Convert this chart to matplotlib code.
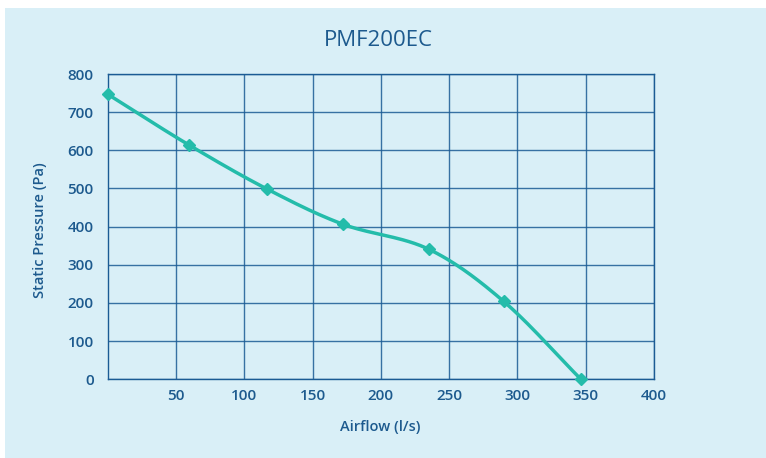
import numpy as np
import matplotlib
matplotlib.use("Agg")
import matplotlib.pyplot as plt
from matplotlib.patches import Rectangle

title = "PMF200EC"
airflow = [0, 59.5, 117, 172.5, 235, 290, 346.5]
pressure = [747, 614, 498, 406, 341, 204, 0]
x_ticks = [50, 100, 150, 200, 250, 300, 350, 400]
y_ticks = [0, 100, 200, 300, 400, 500, 600, 700, 800]

BG = "#d9eff7"
GRID = "#1b5b94"
TXT = "#1d5a8e"
LINE = "#24bcaa"

plt.rcParams['font.family'] = ['Open Sans', 'DejaVu Sans']

fig = plt.figure(figsize=(7.66, 4.58), dpi=100)
fig.patch.set_facecolor("white")
fig.patches.append(Rectangle((5/766, 0), 1, 1 - 8/458, transform=fig.transFigure,
                             facecolor=BG, edgecolor="none", zorder=-5))

ax = fig.add_axes([107.7/766, 1 - 379.3/458, (654 - 107.7)/766, (379.3 - 74)/458])
ax.set_zorder(2)
ax.set_facecolor(BG)

# Catmull-Rom smoothing of the line through the data points
x = np.array(airflow, float)
y = np.array(pressure, float)
px = np.concatenate([[2*x[0]-x[1]], x, [2*x[-1]-x[-2]]])
py = np.concatenate([[2*y[0]-y[1]], y, [2*y[-1]-y[-2]]])
sx, sy = [], []
t = np.linspace(0, 1, 30)
for i in range(1, len(px) - 2):
    p0x, p1x, p2x, p3x = px[i-1:i+3]
    p0y, p1y, p2y, p3y = py[i-1:i+3]
    cx = 0.5*((2*p1x) + (-p0x+p2x)*t + (2*p0x-5*p1x+4*p2x-p3x)*t**2 + (-p0x+3*p1x-3*p2x+p3x)*t**3)
    cy = 0.5*((2*p1y) + (-p0y+p2y)*t + (2*p0y-5*p1y+4*p2y-p3y)*t**2 + (-p0y+3*p1y-3*p2y+p3y)*t**3)
    sx.extend(cx); sy.extend(cy)

ax.plot(sx, sy, color=LINE, lw=2.5, zorder=3, clip_on=False, solid_capstyle="round")
ax.plot(x, y, linestyle="none", marker="D", ms=6.5, color=LINE, zorder=4, clip_on=False)

ax.set_xlim(0, 400)
ax.set_ylim(0, 800)
ax.set_xticks(x_ticks)
ax.set_yticks(y_ticks)
ax.grid(True, color=GRID, lw=1.0, alpha=0.85)
ax.set_axisbelow(True)
for s in ax.spines.values():
    s.set_color(GRID)
    s.set_linewidth(1.0)
ax.tick_params(length=0, colors=TXT, labelsize=11, pad=7)
for lab in ax.get_xticklabels() + ax.get_yticklabels():
    lab.set_fontweight("semibold")
    lab.set_color(TXT)
ax.tick_params(axis='y', pad=10)

fig.text(378/766, 1 - 40/458, title, ha="center", va="center", fontsize=16, color=TXT)
fig.text(380/766, 1 - 427/458, "Airflow (l/s)", ha="center", va="center",
         fontsize=10.5, fontweight="semibold", color=TXT)
fig.text(40/766, 1 - 230/458, "Static Pressure (Pa)", ha="center", va="center",
         rotation=90, fontsize=10.5, fontweight="semibold", color=TXT)

fig.savefig("out.png", dpi=100, facecolor=fig.get_facecolor())
